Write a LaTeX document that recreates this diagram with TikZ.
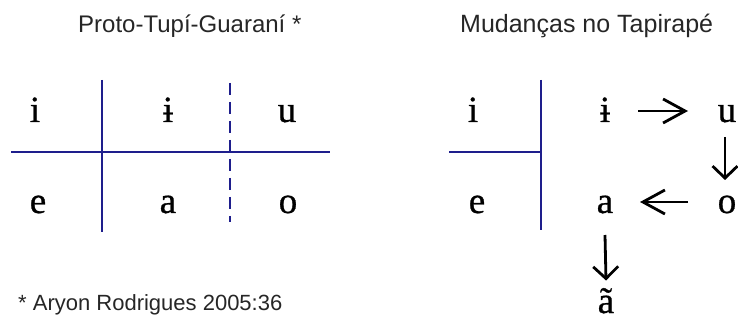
\documentclass[tikz,border=0pt]{standalone}
\usepackage{fontspec}
\setmainfont{Liberation Serif}
\newfontfamily\vowelfont[FakeBold=0.8]{Liberation Serif}
\newfontfamily\titlefont{Liberation Sans}
\usetikzlibrary{arrows.meta}
\definecolor{gridblue}{RGB}{30,30,140}
\begin{document}
\begin{tikzpicture}[x=1pt,y=-1pt,
  vowel/.style={anchor=base, inner sep=0pt, font=\vowelfont\fontsize{37}{37}\selectfont, text height=25pt, text depth=3pt},
  ttl/.style={anchor=base west, inner sep=0pt, font=\titlefont\fontsize{24}{24}\selectfont, text=black!85},
  gridline/.style={draw=gridblue, line width=1.8pt},
  dashline/.style={gridline, dash pattern=on 12pt off 7pt},
  varr/.style={line width=2.8pt, -{Straight Barb[length=12pt,width=25pt,line width=2.8pt]}},
  harr/.style={line width=2.8pt, -{Straight Barb[length=22pt,width=24pt,line width=2.8pt]}}]
\useasboundingbox (0,0) rectangle (738,320);

% titles
\node[ttl] (t1) at (78,33) {Proto-Tupí-Guaraní *};
\node[ttl, font=\titlefont\fontsize{25}{25}\selectfont] (t2) at (460,33) {Mudanças no Tapirapé};
\node[ttl, font=\titlefont\fontsize{22}{22}\selectfont] (fn) at (18,310) {* Aryon Rodrigues 2005:36};

% left table
\draw[gridline] (11,152) -- (330,152);
\draw[gridline] (102,80) -- (102,232);
\draw[dashline] (230,83) -- (230,222);
\node[vowel] (li) at (35,122) {i};
\node[vowel] (lib) at (168,122) {ɨ};
\node[vowel] (lu) at (287,122) {u};
\node[vowel] (le) at (38,213) {e};
\node[vowel] (la) at (168,213) {a};
\node[vowel] (lo) at (288,213) {o};

% right table
\draw[gridline] (449,152) -- (541,152);
\draw[gridline] (541,80) -- (541,230);
\node[vowel] (ri) at (473,122) {i};
\node[vowel] (re) at (477,213) {e};
\node[vowel] (rib) at (605,122) {ɨ};
\node[vowel] (ru) at (727,122) {u};
\node[vowel] (ra) at (605,213) {a};
\node[vowel] (ro) at (727,213) {o};
\node[vowel, text depth=0pt] (rat) at (606,313) {ã};

% changes
\draw[harr] ([xshift=33pt]rib.center) -- ([xshift=-39pt]ru.center);
\draw[varr] ([xshift=-2pt,yshift=-26pt]ru.center) -- ([xshift=-2pt,yshift=22pt]ro.center);
\draw[harr] ([xshift=-39pt]ro.center) -- ([xshift=35pt]ra.center);
\draw[varr] ([yshift=-33pt]ra.center) -- ([yshift=20pt]rat.center);
\end{tikzpicture}
\end{document}
